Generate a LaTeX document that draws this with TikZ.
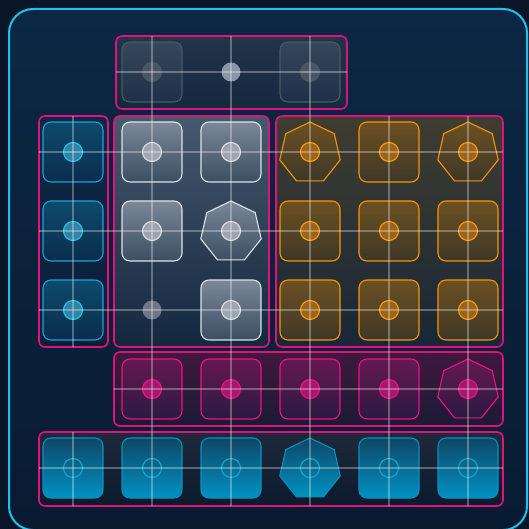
\documentclass[tikz,border=0pt]{standalone}
\usetikzlibrary{shapes.geometric}
\definecolor{bgout}{HTML}{0A1628}
\definecolor{bgtop}{HTML}{0C2844}
\definecolor{bgbot}{HTML}{091B31}
\definecolor{rim}{HTML}{1EC0F0}
\definecolor{mag}{HTML}{E3117C}
% group fills
\definecolor{gAt}{HTML}{22344A}\definecolor{gAb}{HTML}{14283F}
\definecolor{gBt}{HTML}{0D2744}\definecolor{gBb}{HTML}{0B1F38}
\definecolor{gCt}{HTML}{47596C}\definecolor{gCb}{HTML}{13273F}
\definecolor{gDt}{HTML}{403D30}\definecolor{gDb}{HTML}{182737}
\definecolor{gEt}{HTML}{40183F}\definecolor{gEb}{HTML}{1A1A36}
\definecolor{gFt}{HTML}{1E2A3B}\definecolor{gFb}{HTML}{0C1A2E}
% item colours
\definecolor{dimB}{HTML}{4C5868}\definecolor{dimT}{HTML}{37465A}\definecolor{dimBo}{HTML}{1E3048}\definecolor{dimD}{HTML}{4A5666}
\definecolor{midD}{HTML}{8A96A6}
\definecolor{cyB}{HTML}{1AA2D8}\definecolor{cyT}{HTML}{0D4A6C}\definecolor{cyBo}{HTML}{0A2D4C}\definecolor{cyDf}{HTML}{3284A6}\definecolor{cyDd}{HTML}{22C8F0}
\definecolor{wB}{HTML}{DDE2E8}\definecolor{wT}{HTML}{7A8898}\definecolor{wBo}{HTML}{3C4E62}\definecolor{wDf}{HTML}{9CA5B0}
\definecolor{grD}{HTML}{6E7888}
\definecolor{oB}{HTML}{F5940C}\definecolor{oT}{HTML}{6C5022}\definecolor{oBo}{HTML}{3E3828}\definecolor{oDf}{HTML}{9A6419}\definecolor{oDd}{HTML}{FF9C12}
\definecolor{mB}{HTML}{EE1282}\definecolor{mT}{HTML}{661852}\definecolor{mBo}{HTML}{2A1A40}\definecolor{mDf}{HTML}{A6186E}
\definecolor{fB}{HTML}{0A8EC0}\definecolor{fT}{HTML}{0E4766}\definecolor{fBo}{HTML}{0092C2}\definecolor{fD}{HTML}{1AA6D0}
\begin{document}
\begin{tikzpicture}[x=1pt,y=-1pt,
  grp/.style={draw=mag, line width=1.6pt, rounded corners=6pt},
  sq/.style={rectangle, minimum size=60pt, inner sep=0pt, rounded corners=8pt, line width=1.1pt},
  hep/.style={regular polygon, regular polygon sides=7, minimum size=62pt, inner sep=0pt, line width=1.1pt},
  dotc/.style={circle, minimum size=19pt, inner sep=0pt, line width=1.1pt},
  dimit/.style={draw=dimB, top color=dimT, bottom color=dimBo},
  dimdot/.style={dotc, fill=dimD, draw=dimD},
  cyit/.style={draw=cyB, top color=cyT, bottom color=cyBo},
  cydot/.style={dotc, fill=cyDf, draw=cyDd},
  wit/.style={draw=wB, top color=wT, bottom color=wBo},
  wdot/.style={dotc, fill=wDf, draw=wB},
  oit/.style={draw=oB, top color=oT, bottom color=oBo},
  odot/.style={dotc, fill=oDf, draw=oDd},
  mit/.style={draw=mB, top color=mT, bottom color=mBo},
  mdot/.style={dotc, fill=mDf, draw=mB},
  fit/.style={draw=fB, top color=fT, bottom color=fBo},
  fdot/.style={dotc, draw=fD},
  gridl/.style={draw=white, opacity=0.3, line width=1.2pt}
]
\useasboundingbox (0,0) rectangle (529,529);
\fill[bgout] (0,0) rectangle (529,529);
\draw[rim, line width=2pt, rounded corners=24pt, top color=bgtop, bottom color=bgbot] (9,9) rectangle (527,530);

% groups
\draw[grp, top color=gAt, bottom color=gAb] (116,36) rectangle (347,109);
\draw[grp, top color=gBt, bottom color=gBb] (39,116) rectangle (108,347);
\draw[grp, top color=gCt, bottom color=gCb] (114,116) rectangle (269,347);
\draw[grp, top color=gDt, bottom color=gDb] (276,116) rectangle (503,347);
\draw[grp, top color=gEt, bottom color=gEb] (114,352) rectangle (503,426);
\draw[grp, top color=gFt, bottom color=gFb] (39,432) rectangle (503,506);

% group A (row 0)
\node[sq, dimit] (a1) at (152,72) {};
\node[dimdot] (a1d) at (a1.center) {};
\node[dotc, fill=midD] (a2d) at (231,72) {};
\node[sq, dimit] (a3) at (310,72) {};
\node[dimdot] (a3d) at (a3.center) {};

% group B (col 0, rows 1-3)
\node[sq, cyit] (b1) at (73,152) {};
\node[cydot] (b1d) at (b1.center) {};
\node[sq, cyit] (b2) at (73,231) {};
\node[cydot] (b2d) at (b2.center) {};
\node[sq, cyit] (b3) at (73,310) {};
\node[cydot] (b3d) at (b3.center) {};

% group C
\node[sq, wit] (c11) at (152,152) {};
\node[wdot] (c11d) at (c11.center) {};
\node[sq, wit] (c21) at (231,152) {};
\node[wdot] (c21d) at (c21.center) {};
\node[sq, wit] (c12) at (152,231) {};
\node[wdot] (c12d) at (c12.center) {};
\node[hep, wit] (c22) at (231,232) {};
\node[wdot] (c22d) at (231,231) {};
\node[dotc, fill=grD] (c13d) at (152,310) {};
\node[sq, wit] (c23) at (231,310) {};
\node[wdot] (c23d) at (c23.center) {};

% group D
\node[hep, oit] (d31) at (310,153) {};
\node[odot] (d31d) at (310,152) {};
\node[sq, oit] (d41) at (389,152) {};
\node[odot] (d41d) at (d41.center) {};
\node[hep, oit] (d51) at (468,153) {};
\node[odot] (d51d) at (468,152) {};
\node[sq, oit] (d32) at (310,231) {};
\node[odot] (d32d) at (d32.center) {};
\node[sq, oit] (d42) at (389,231) {};
\node[odot] (d42d) at (d42.center) {};
\node[sq, oit] (d52) at (468,231) {};
\node[odot] (d52d) at (d52.center) {};
\node[sq, oit] (d33) at (310,310) {};
\node[odot] (d33d) at (d33.center) {};
\node[sq, oit] (d43) at (389,310) {};
\node[odot] (d43d) at (d43.center) {};
\node[sq, oit] (d53) at (468,310) {};
\node[odot] (d53d) at (d53.center) {};

% group E
\node[sq, mit] (e1) at (152,389) {};
\node[mdot] (e1d) at (e1.center) {};
\node[sq, mit] (e2) at (231,389) {};
\node[mdot] (e2d) at (e2.center) {};
\node[sq, mit] (e3) at (310,389) {};
\node[mdot] (e3d) at (e3.center) {};
\node[sq, mit] (e4) at (389,389) {};
\node[mdot] (e4d) at (e4.center) {};
\node[hep, mit] (e5) at (468,390) {};
\node[mdot] (e5d) at (468,389) {};

% group F
\node[sq, fit] (f0) at (73,468) {};
\node[fdot] (f0d) at (f0.center) {};
\node[sq, fit] (f1) at (152,468) {};
\node[fdot] (f1d) at (f1.center) {};
\node[sq, fit] (f2) at (231,468) {};
\node[fdot] (f2d) at (f2.center) {};
\node[hep, fit] (f3) at (310,469) {};
\node[fdot] (f3d) at (310,468) {};
\node[sq, fit] (f4) at (389,468) {};
\node[fdot] (f4d) at (f4.center) {};
\node[sq, fit] (f5) at (468,468) {};
\node[fdot] (f5d) at (f5.center) {};

% grid lines
\draw[gridl] (116,72) -- (347,72);
\draw[gridl] (39,152) -- (503,152);
\draw[gridl] (39,231) -- (503,231);
\draw[gridl] (39,310) -- (503,310);
\draw[gridl] (114,389) -- (503,389);
\draw[gridl] (39,468) -- (503,468);
\draw[gridl] (73,116) -- (73,347);
\draw[gridl] (73,432) -- (73,506);
\draw[gridl] (152,36) -- (152,506);
\draw[gridl] (231,36) -- (231,506);
\draw[gridl] (310,36) -- (310,506);
\draw[gridl] (389,116) -- (389,506);
\draw[gridl] (468,116) -- (468,506);
\end{tikzpicture}
\end{document}
